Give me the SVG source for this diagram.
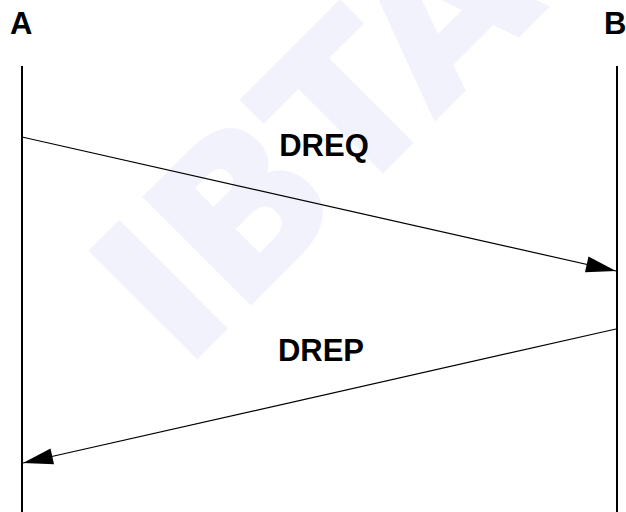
<svg xmlns="http://www.w3.org/2000/svg" width="626" height="512" viewBox="0 0 626 512">
  <style>
    .lbl { font-family: "Liberation Sans", Arial, sans-serif; font-weight: bold; font-size: 31px; fill: #000; }
    .life { stroke: #000; stroke-width: 2; fill: none; }
    .msg { stroke: #000; stroke-width: 1.2; fill: none; marker-end: url(#ah); }
    .wm { font-family: "DejaVu Sans", "Liberation Sans", sans-serif; font-weight: bold; font-size: 204px; fill: #f2f2fc; stroke: #f2f2fc; stroke-width: 5; stroke-linejoin: miter; }
  </style>
  <defs>
    <marker id="ah" markerUnits="userSpaceOnUse" markerWidth="32" markerHeight="18" viewBox="-31 -9 32 18" refX="0" refY="0" orient="auto">
      <path d="M0,0 L-30,-8 L-30,8 Z" fill="#000"/>
    </marker>
  </defs>
  <rect width="626" height="512" fill="#fff"/>
  <text class="wm" transform="translate(184,369) rotate(-45)">IBTA</text>
  <g id="nodeA">
    <text class="lbl" x="10" y="34">A</text>
    <line class="life" x1="22" y1="66" x2="22" y2="512"/>
  </g>
  <g id="nodeB">
    <text class="lbl" x="604" y="34">B</text>
    <line class="life" x1="617" y1="66" x2="617" y2="512"/>
  </g>
  <g id="connectors">
    <line class="msg" x1="22" y1="137" x2="616" y2="271"/>
    <text class="lbl" x="324" y="156" text-anchor="middle">DREQ</text>
    <line class="msg" x1="616" y1="329" x2="23" y2="463"/>
    <text class="lbl" x="321" y="361" text-anchor="middle">DREP</text>
  </g>
</svg>
